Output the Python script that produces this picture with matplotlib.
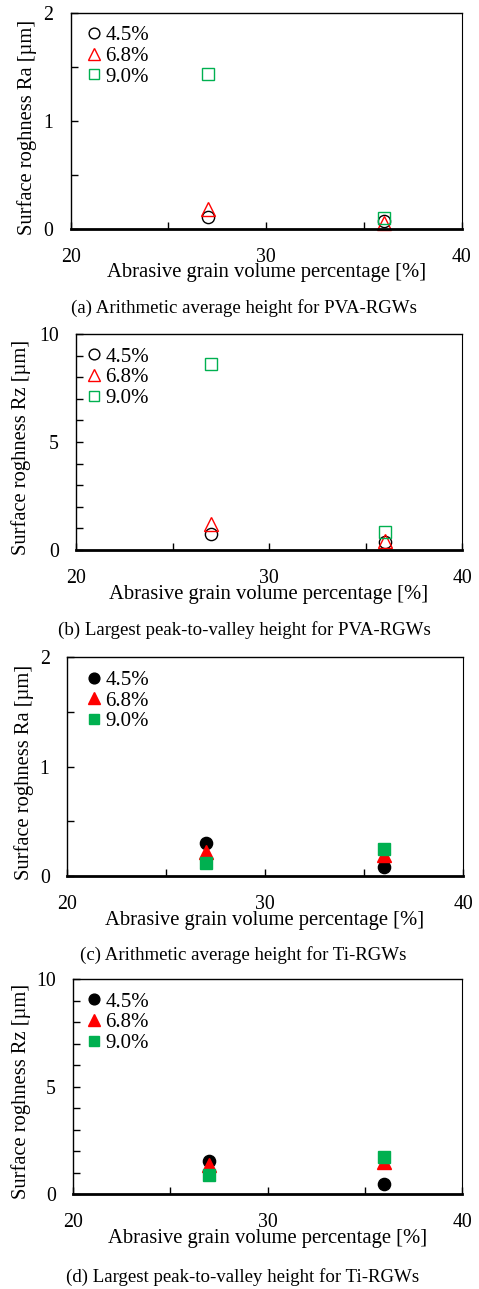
import matplotlib
matplotlib.use('Agg')
import matplotlib.pyplot as plt
from matplotlib.lines import Line2D
import numpy as np

plt.rcParams['font.family'] = ['Liberation Serif', 'DejaVu Serif']

# ---------------- data ----------------
x_vals = [27, 36]
series_labels = ['4.5%', '6.8%', '9.0%']

ra_pva_45 = [0.11, 0.075]
ra_pva_68 = [0.19, 0.06]
ra_pva_90 = [1.43, 0.10]

rz_pva_45 = [0.72, 0.38]
rz_pva_68 = [1.19, 0.40]
rz_pva_90 = [8.60, 0.82]

ra_ti_45 = [0.30, 0.08]
ra_ti_68 = [0.22, 0.19]
ra_ti_90 = [0.12, 0.25]

rz_ti_45 = [1.53, 0.48]
rz_ti_68 = [1.36, 1.49]
rz_ti_90 = [0.90, 1.75]

x_ticks = [20, 25, 30, 35, 40]
x_ticklabels = ['20', '', '30', '', '40']
ra_ticks = [0, 0.5, 1, 1.5, 2]
ra_ticklabels = ['0', '', '1', '', '2']
rz_ticks = [0, 1, 2, 3, 4, 5, 6, 7, 8, 9, 10]
rz_ticklabels = ['0', '', '', '', '', '5', '', '', '', '', '10']

xlabel = 'Abrasive grain volume percentage [%]'
ylabel_ra = 'Surface roghness Ra [µm]'
ylabel_rz = 'Surface roghness Rz [µm]'
captions = ['(a) Arithmetic average height for PVA-RGWs',
            '(b) Largest peak-to-valley height for PVA-RGWs',
            '(c) Arithmetic average height for Ti-RGWs',
            '(d) Largest peak-to-valley height for Ti-RGWs']

# ---------------- layout ----------------
W, H = 479, 1289
DPI = 100
fig = plt.figure(figsize=(W / DPI, H / DPI), dpi=DPI)

# panel boxes in pixels: left, right, top, bottom
boxes = [(70.7, 461.7, 12.7, 229.3),
         (76.0, 462.0, 334.0, 550.0),
         (67.0, 463.0, 657.3, 876.0),
         (73.0, 462.0, 979.0, 1194.3)]
ylabel_px = [(27.5, 127.5), (21.5, 447.5), (24.0, 772.5), (21.0, 1091.0)]
xlabel_py = [273.0, 595.0, 920.0, 1238.5]
caption_pos = [(244, 308), (244, 630), (243, 955), (242.5, 1277)]

RED = '#FF0000'
GREEN = '#00B050'
FS = 14.3

panels = [
    (ra_pva_45, ra_pva_68, ra_pva_90, False, ra_ticks, ra_ticklabels, (0, 2), ylabel_ra),
    (rz_pva_45, rz_pva_68, rz_pva_90, False, rz_ticks, rz_ticklabels, (0, 10), ylabel_rz),
    (ra_ti_45, ra_ti_68, ra_ti_90, True, ra_ticks, ra_ticklabels, (0, 2), ylabel_ra),
    (rz_ti_45, rz_ti_68, rz_ti_90, True, rz_ticks, rz_ticklabels, (0, 10), ylabel_rz),
]

for i, (s45, s68, s90, filled, yt, ytl, ylim, ylab) in enumerate(panels):
    l, r, t, b = boxes[i]
    ax = fig.add_axes([l / W, 1 - b / H, (r - l) / W, (b - t) / H])
    specs = [(s45, 'o', 'black', 8.8), (s68, '^', RED, 9.6), (s90, 's', GREEN, 8.8)]
    handles = []
    for (vals, mk, col, ms), lab in zip(specs, series_labels):
        if filled:
            kw = dict(markerfacecolor=col, markeredgecolor=col)
        else:
            kw = dict(markerfacecolor='none', markeredgecolor=col, markeredgewidth=1.0)
        ax.plot(x_vals, vals, linestyle='none', marker=mk, markersize=ms, clip_on=False, **kw)
        handles.append(Line2D([], [], linestyle='none', marker=mk,
                              markersize=ms * 0.88, label=lab, **kw))
    ax.set_xlim(20, 40)
    ax.set_ylim(*ylim)
    ax.set_xticks(x_ticks)
    ax.set_xticklabels(x_ticklabels)
    ax.set_yticks(yt)
    ax.set_yticklabels(ytl)
    ax.tick_params(axis='x', direction='in', length=5, width=1.0, pad=13.5, labelsize=FS)
    ax.tick_params(axis='y', direction='in', length=5, width=1.0, pad=12.5, labelsize=FS)
    for side, lw in [('bottom', 2.0), ('left', 1.0), ('top', 1.0), ('right', 0.8)]:
        ax.spines[side].set_linewidth(lw)
        ax.spines[side].set_color('black')

    ax.set_xlabel(xlabel, fontsize=FS + 0.6, va='center')
    xl_y = (b - xlabel_py[i]) / (b - t)
    ax.xaxis.set_label_coords(0.5, xl_y)
    ax.set_ylabel(ylab, fontsize=FS + 0.5, va='center')
    yx, yy = ylabel_px[i]
    ax.yaxis.set_label_coords((yx - l) / (r - l), (b - yy) / (b - t))

    leg_x = 86.5 / W
    leg_y = 1 - (t + 13.0) / H
    ax.legend(handles=handles, loc='upper left', bbox_to_anchor=(leg_x, leg_y),
              bbox_transform=fig.transFigure, frameon=False, fontsize=FS + 0.7,
              borderpad=0, borderaxespad=0, handlelength=0.7, handletextpad=0.2,
              labelspacing=0.05)

    cx, cy = caption_pos[i]
    fig.text(cx / W, 1 - cy / H, captions[i], ha='center', va='center', fontsize=13.6)

fig.savefig('out.png', dpi=DPI)
